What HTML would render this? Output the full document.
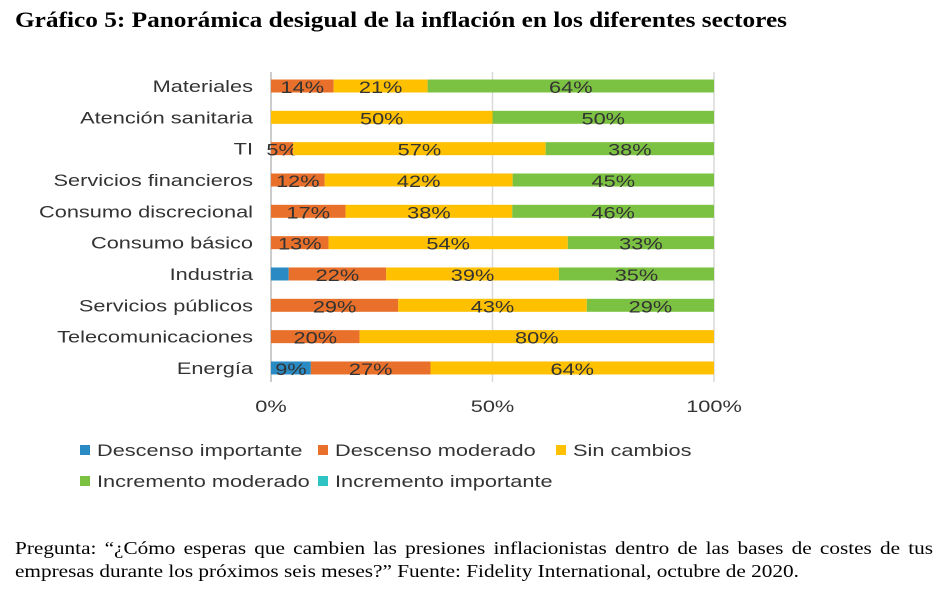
<!DOCTYPE html>
<html><head><meta charset="utf-8"><style>
body{margin:0;width:944px;height:592px;background:#fff;overflow:hidden;font-family:"Liberation Sans",sans-serif}
#title{position:absolute;left:15px;top:7px;font:bold 22px "Liberation Serif",serif;color:#000;transform:scaleX(1.15);transform-origin:0 0;white-space:nowrap}
.note{position:absolute;left:15px;width:778px;font:18px/22px "Liberation Serif",serif;color:#000;white-space:nowrap;transform:scaleX(1.18);transform-origin:0 0}
#n1{top:537px;text-align:justify;text-align-last:justify;white-space:normal}
#n2{top:560px}
svg{position:absolute;left:0;top:0}
</style></head><body>
<div id="title">Gráfico 5: Panorámica desigual de la inflación en los diferentes sectores</div>
<svg id="chart" width="944" height="592"></svg>
<div class="note" id="n1">Pregunta: “¿Cómo esperas que cambien las presiones inflacionistas dentro de las bases de costes de tus</div>
<div class="note" id="n2">empresas durante los próximos seis meses?” Fuente: Fidelity International, octubre de 2020.</div>
<script>
const categories=["Materiales","Atención sanitaria","TI","Servicios financieros","Consumo discrecional","Consumo básico","Industria","Servicios públicos","Telecomunicaciones","Energía"];
const descensoImportante=[0,0,0,0,0,0,4,0,0,9];
const descensoModerado=[14,0,5,12,17,13,22,29,20,27];
const sinCambios=[21,50,57,42,38,54,39,43,80,64];
const incrementoModerado=[64,50,38,45,46,33,35,29,0,0];
const incrementoImportante=[0,0,0,0,0,0,0,0,0,0];
const seriesNames=["Descenso importante","Descenso moderado","Sin cambios","Incremento moderado","Incremento importante"];
const tickLabels=["0%","50%","100%"];
const tickValues=[0,50,100];
const series=[descensoImportante,descensoModerado,sinCambios,incrementoModerado,incrementoImportante];
const colors=["#2a8bc4","#e8702a","#ffc000","#7cc242","#2ec4c4"];
const NS="http://www.w3.org/2000/svg";
const svg=document.getElementById("chart");
const x0=271,x1=714,yTop=86,rowH=31.33;
const xs=v=>x0+(x1-x0)*v/100;
const ys=i=>yTop+i*rowH;
const SX=1.28;
function mk(t,a){const e=document.createElementNS(NS,t);for(const k in a)e.setAttribute(k,a[k]);svg.appendChild(e);return e;}
function txt(x,y,s,anchor){const e=mk("text",{x:0,y:0,"text-anchor":anchor,"font-size":17,fill:"#333",transform:`translate(${x},${y}) scale(${SX},1)`});e.textContent=s;return e;}
tickValues.forEach((v,i)=>{
 const g=mk("line",{x1:xs(v),x2:xs(v),y1:72,y2:382,stroke:i==0?"#bbb":"#d9d9d9","stroke-width":1.5});
 
 
 const t=txt(xs(v),412,tickLabels[i],"middle");
 
 
});
categories.forEach((c,i)=>{
 const y=ys(i);
 const t=txt(253,y+6,c,"end");
 
 
 let tot=0;series.forEach(s=>tot+=s[i]);
 let acc=0;
 series.forEach((s,k)=>{
  const v=s[i];if(!v)return;
  const a=xs(acc/tot*100),b=xs((acc+v)/tot*100);acc+=v;
  const r=mk("rect",{x:a,y:y-6.5,width:b-a,height:13,fill:colors[k]});
  
  
  if(v>=5){const l=txt((a+b)/2,y+7,v+"%","middle");
  
  }
 });
});
const legPos=[[80,450],[318,450],[556,450],[80,481],[318,481]];
seriesNames.forEach((n,k)=>{
 const [lx,ly]=legPos[k];
 const r=mk("rect",{x:lx,y:ly-5,width:10,height:10,fill:colors[k]});
 
 
 const t=txt(lx+17,ly+6,n,"start");
 
 
});
</script>
</body></html>
